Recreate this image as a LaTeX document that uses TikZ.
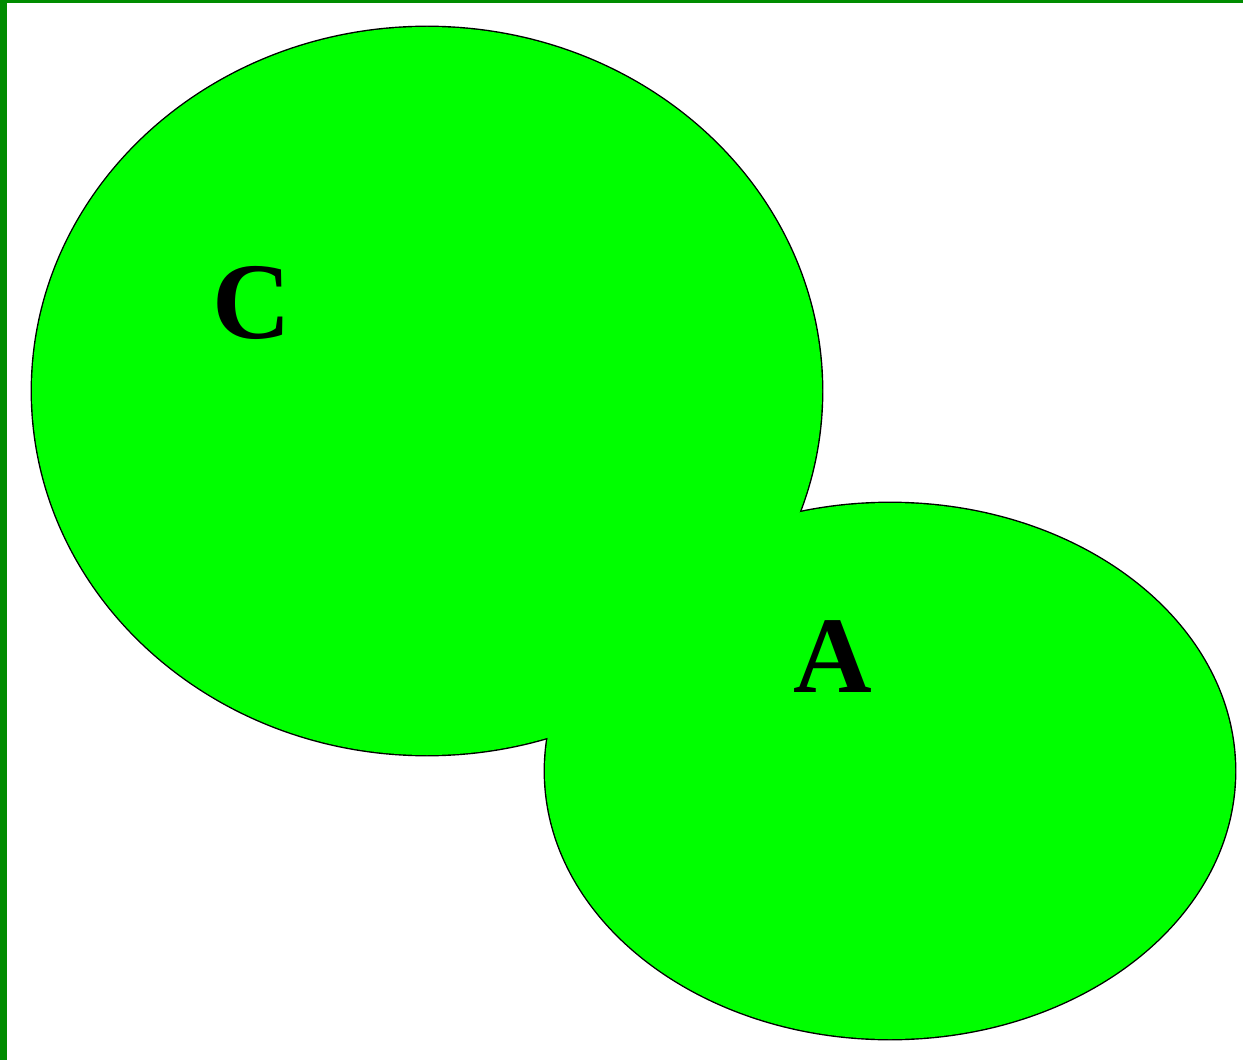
\documentclass[tikz,border=0pt]{standalone}
\usepackage{fontspec}
\setmainfont{Liberation Serif}
\usetikzlibrary{positioning}
\definecolor{setgreen}{RGB}{0,255,0}
\definecolor{framegreen}{RGB}{0,140,0}
\tikzset{
  setfill/.style={fill=setgreen},
  setedge/.style={draw=black,line width=1.6pt},
  setlbl/.style={font=\bfseries\fontsize{62}{62}\selectfont,inner sep=0pt},
}
\begin{document}
\begin{tikzpicture}[x=0.02cm,y=-0.02cm]
  \useasboundingbox (0,0) rectangle (1243,1060);
  \fill[white] (0,0) rectangle (1243,1060);
  \fill[framegreen] (0,0) rectangle (7,1060);
  \fill[framegreen] (0,0) rectangle (1243,3);
  % outlines first, the second fill hides the inner arcs
  \draw[setedge,setfill] (427,391) ellipse [x radius=395,y radius=364];
  \draw[setedge,setfill] (890,771) ellipse [x radius=345,y radius=268];
  \fill[setfill] (427,391) ellipse [x radius=395,y radius=364];
  \fill[setfill] (890,771) ellipse [x radius=345,y radius=268];
  \node[setlbl] (C) at (252,303) {C};
  \node[setlbl] (A) at (833,657) {A};
\end{tikzpicture}
\end{document}
